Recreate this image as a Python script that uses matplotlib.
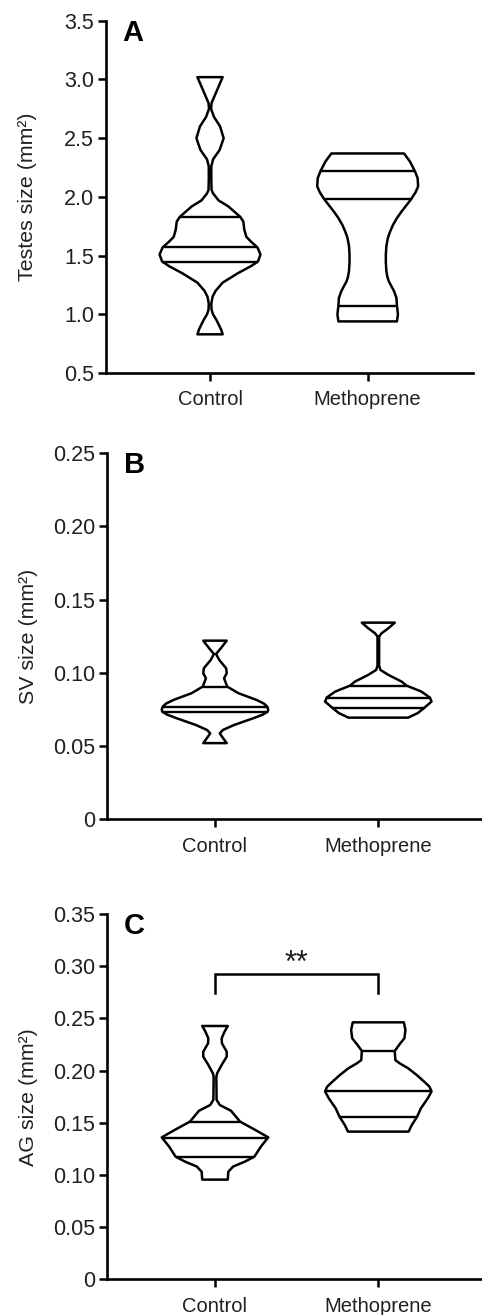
#!/usr/bin/env python3
"""Violin plots of testes, SV and AG size, control vs methoprene."""

from __future__ import annotations

import matplotlib

matplotlib.use("Agg")
import matplotlib.pyplot as plt
import numpy as np

GROUPS = ["Control", "Methoprene"]

# Violin outlines: y level and half-width
# (as a fraction of the widest point of that violin).
TESTES_CTRL_Y = [0.83, 0.87, 0.95, 1.00, 1.04, 1.09, 1.15, 1.20, 1.27, 1.35, 1.41, 1.45,
                 1.51, 1.57, 1.62, 1.66, 1.72, 1.79, 1.83, 1.92, 1.97, 2.03, 2.06, 2.15,
                 2.26, 2.32, 2.40, 2.50, 2.60, 2.68, 2.75, 2.80, 2.91, 3.02]
TESTES_CTRL_W = [0.25, 0.22, 0.13, 0.06, 0.03, 0.025, 0.05, 0.11, 0.25, 0.55, 0.81, 0.95,
                 1.00, 0.94, 0.81, 0.72, 0.68, 0.66, 0.60, 0.36, 0.17, 0.06, 0.03, 0.025,
                 0.025, 0.06, 0.19, 0.27, 0.20, 0.08, 0.02, 0.03, 0.14, 0.25]
TESTES_METH_Y = [0.94, 1.00, 1.075, 1.14, 1.20, 1.24, 1.28, 1.32, 1.37, 1.44, 1.51, 1.58,
                 1.65, 1.70, 1.76, 1.82, 1.875, 1.93, 1.98, 2.04, 2.09, 2.16, 2.22, 2.30,
                 2.37]
TESTES_METH_W = [0.58, 0.60, 0.58, 0.57, 0.52, 0.47, 0.42, 0.39, 0.37, 0.36, 0.36, 0.37,
                 0.40, 0.44, 0.50, 0.58, 0.67, 0.77, 0.86, 0.95, 1.00, 0.99, 0.935, 0.84,
                 0.72]

SV_CTRL_Y = [0.052, 0.0565, 0.0587, 0.061, 0.0644, 0.069, 0.0715, 0.0735, 0.0750, 0.0770,
             0.0790, 0.0815, 0.0861, 0.0906, 0.0963, 0.0997, 0.1031, 0.1088, 0.1129,
             0.1168, 0.1220]
SV_CTRL_W = [0.22, 0.13, 0.09, 0.15, 0.36, 0.72, 0.90, 0.99, 1.00, 0.98,
             0.92, 0.78, 0.44, 0.23, 0.17, 0.22, 0.21, 0.08, 0.02,
             0.11, 0.22]
SV_METH_Y = [0.0694, 0.0725, 0.0763, 0.0804, 0.0831, 0.0872, 0.0913, 0.0940, 0.0986,
             0.1020, 0.1050, 0.1248, 0.1270, 0.1305, 0.1343]
SV_METH_W = [0.56, 0.74, 0.87, 1.00, 0.97, 0.81, 0.53, 0.44, 0.19,
             0.04, 0.015, 0.015, 0.06, 0.19, 0.31]

AG_CTRL_Y = [0.0955, 0.103, 0.108, 0.1127, 0.1175, 0.127, 0.1360, 0.143, 0.1511, 0.1615,
             0.167, 0.172, 0.194, 0.1974, 0.2054, 0.2133, 0.2181, 0.2261, 0.2309,
             0.2373, 0.2427]
AG_CTRL_W = [0.24, 0.25, 0.34, 0.56, 0.74, 0.86, 1.00, 0.76, 0.47, 0.30,
             0.09, 0.03, 0.025, 0.04, 0.125, 0.22, 0.22, 0.13, 0.125,
             0.18, 0.24]
AG_METH_Y = [0.1415, 0.1479, 0.1559, 0.1638, 0.1734, 0.1800, 0.1846, 0.1894, 0.1958,
             0.2022, 0.2070, 0.2100, 0.2188, 0.2252, 0.2309, 0.2389, 0.2462]
AG_METH_W = [0.57, 0.63, 0.73, 0.80, 0.93, 1.00, 0.96, 0.86, 0.72,
             0.56, 0.40, 0.32, 0.31, 0.40, 0.49, 0.51, 0.48]

# Q1, median, Q3 per group
TESTES_QUART = [[1.45, 1.57, 1.83], [1.075, 1.98, 2.22]]
SV_QUART = [[0.0735, 0.0770, 0.0906], [0.0763, 0.0831, 0.0913]]
AG_QUART = [[0.1175, 0.1357, 0.1511], [0.1559, 0.1805, 0.2188]]

TESTES_TICKS = [0.5, 1.0, 1.5, 2.0, 2.5, 3.0, 3.5]
TESTES_TICKLABELS = ["0.5", "1.0", "1.5", "2.0", "2.5", "3.0", "3.5"]
SV_TICKS = [0, 0.05, 0.10, 0.15, 0.20, 0.25]
SV_TICKLABELS = ["0", "0.05", "0.10", "0.15", "0.20", "0.25"]
AG_TICKS = [0, 0.05, 0.10, 0.15, 0.20, 0.25, 0.30, 0.35]
AG_TICKLABELS = ["0", "0.05", "0.10", "0.15", "0.20", "0.25", "0.30", "0.35"]

# significance bracket in panel C: bracket top, leg bottom, label
AG_SIG_Y = 0.2922
AG_SIG_LEG = 0.2747
AG_SIG_TEXT = "**"

TEXT_COLOR = "#231f20"
LW = 1.8

plt.rcParams["font.family"] = ["Liberation Sans", "DejaVu Sans"]


def _draw_violin(ax, pos: float, ys, ws, quart, half: float) -> None:
    ys = np.asarray(ys, dtype=float)
    ws = np.asarray(ws, dtype=float) * half
    xs = np.concatenate([pos + ws, (pos - ws)[::-1]])
    yy = np.concatenate([ys, ys[::-1]])
    ax.fill(xs, yy, facecolor="white", edgecolor="black", linewidth=LW,
            joinstyle="round", zorder=3)
    for q in quart:
        w = np.interp(q, ys, ws)
        ax.plot([pos - w, pos + w], [q, q], color="black", linewidth=LW - 0.1,
                solid_capstyle="butt", zorder=4)


def _style_axis(ax, ticks, ticklabels, ylim, xlim) -> None:
    for side in ("top", "right"):
        ax.spines[side].set_visible(False)
    for side in ("left", "bottom"):
        ax.spines[side].set_linewidth(1.9)
        ax.spines[side].set_color("black")
    ax.set_ylim(*ylim)
    ax.set_xlim(*xlim)
    ax.set_yticks(ticks)
    ax.set_yticklabels(ticklabels)
    ax.set_xticks([1, 2])
    ax.set_xticklabels(GROUPS)
    ax.tick_params(axis="both", direction="out", length=5.5, width=1.8,
                   color="black", labelcolor=TEXT_COLOR)
    ax.tick_params(axis="y", pad=3, labelsize=15.5)
    ax.tick_params(axis="x", pad=7, labelsize=14.5)


def main() -> None:
    fig = plt.figure(figsize=(4.82, 13.15), dpi=100)

    panels = [
        {
            "rect": [0.2199, 0.7163, 0.7614, 0.2679],
            "xlim": (0.34, 2.668),
            "ylim": (0.5, 3.5),
            "half": 0.32,
            "violins": [(TESTES_CTRL_Y, TESTES_CTRL_W), (TESTES_METH_Y, TESTES_METH_W)],
            "quart": TESTES_QUART,
            "ticks": (TESTES_TICKS, TESTES_TICKLABELS),
            "ylabel": "Testes size (mm²)",
            "letter": "A",
        },
        {
            "rect": [0.2214, 0.3770, 0.7786, 0.2783],
            "xlim": (0.337, 2.635),
            "ylim": (0, 0.25),
            "half": 0.326,
            "violins": [(SV_CTRL_Y, SV_CTRL_W), (SV_METH_Y, SV_METH_W)],
            "quart": SV_QUART,
            "ticks": (SV_TICKS, SV_TICKLABELS),
            "ylabel": "SV size (mm²)",
            "letter": "B",
        },
        {
            "rect": [0.2226, 0.02715, 0.7774, 0.2778],
            "xlim": (0.3405, 2.635),
            "ylim": (0, 0.35),
            "half": 0.326,
            "violins": [(AG_CTRL_Y, AG_CTRL_W), (AG_METH_Y, AG_METH_W)],
            "quart": AG_QUART,
            "ticks": (AG_TICKS, AG_TICKLABELS),
            "ylabel": "AG size (mm²)",
            "letter": "C",
        },
    ]

    for p in panels:
        ax = fig.add_axes(p["rect"])
        for i, (ys, ws) in enumerate(p["violins"]):
            _draw_violin(ax, i + 1, ys, ws, p["quart"][i], p["half"])
        _style_axis(ax, p["ticks"][0], p["ticks"][1], p["ylim"], p["xlim"])
        left, bottom, _, height = p["rect"]
        fig.text(28 / 482, bottom + height / 2, p["ylabel"], rotation=90,
                 ha="center", va="center", fontsize=15.4, color=TEXT_COLOR)
        ax.text(0.045, 1.005, p["letter"], transform=ax.transAxes, ha="left", va="top",
                fontsize=21, fontweight="bold", color="black")
        if p["letter"] == "C":
            ax.plot([1, 1, 2, 2], [AG_SIG_LEG, AG_SIG_Y, AG_SIG_Y, AG_SIG_LEG],
                    color="black", linewidth=LW, solid_joinstyle="miter")
            ax.text(1.5, AG_SIG_Y + 0.0025, AG_SIG_TEXT, ha="center", va="baseline",
                    fontsize=22, color=TEXT_COLOR)

    fig.savefig("out.png", dpi=100)
    plt.close(fig)


if __name__ == "__main__":
    main()
